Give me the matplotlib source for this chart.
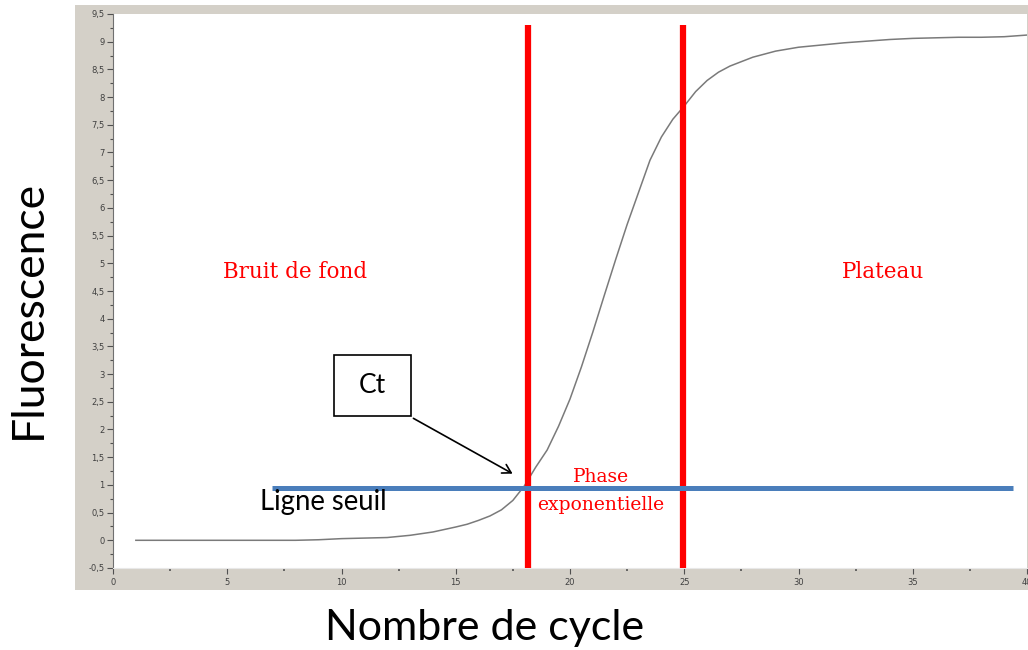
import matplotlib
matplotlib.use("Agg")
import matplotlib.pyplot as plt
from matplotlib.patches import Rectangle, FancyArrowPatch
from matplotlib.ticker import MultipleLocator, FuncFormatter

# ---- data ----
cycles = [1, 2, 3, 4, 5, 6, 7, 8, 9, 10, 11, 12, 13, 14, 15,
          15.5, 16, 16.5, 17, 17.5, 18, 18.5, 19, 19.5, 20, 20.5, 21, 21.5,
          22, 22.5, 23, 23.5, 24, 24.5, 25, 25.5, 26, 26.5, 27,
          28, 29, 30, 31, 32, 33, 34, 35, 36, 37, 38, 39, 40]
fluorescence = [0.0, 0.0, 0.0, 0.0, 0.0, 0.0, 0.0, 0.0, 0.01, 0.03, 0.04, 0.05, 0.09, 0.15, 0.24,
                0.29, 0.36, 0.44, 0.55, 0.72, 0.98, 1.32, 1.63, 2.06, 2.55, 3.13, 3.76, 4.42,
                5.07, 5.70, 6.28, 6.86, 7.28, 7.60, 7.84, 8.10, 8.30, 8.45, 8.56,
                8.72, 8.83, 8.90, 8.94, 8.98, 9.01, 9.04, 9.06, 9.07, 9.08, 9.08, 9.09, 9.12]
phase_bounds = [18.15, 24.95]        # red vertical lines
red_top = 9.3
threshold = 0.95                     # Ligne seuil
threshold_span = [6.96, 39.4]
xlim = (0, 40)
ylim = (-0.5, 9.5)

W, H = 1028, 650
fig = plt.figure(figsize=(W / 100, H / 100), dpi=100)
fig.patch.set_facecolor("white")

def fx(px):
    return px / W

def fy(py):
    return 1 - py / H

# grey panel behind the plot (old Windows style)
fig.patches.append(Rectangle((fx(75), fy(590)), fx(1028) - fx(75), fy(5) - fy(590),
                             transform=fig.transFigure, facecolor="#d4d0c8",
                             edgecolor="none", zorder=-5))

ax = fig.add_axes([fx(113), fy(568), fx(1027) - fx(113), fy(14) - fy(568)])
ax.set_zorder(1)
ax.set_facecolor("white")
ax.set_xlim(*xlim)
ax.set_ylim(*ylim)

for s in ["top", "right"]:
    ax.spines[s].set_visible(False)
ax.spines["left"].set_color("#707070")
ax.spines["left"].set_linewidth(0.8)
ax.spines["bottom"].set_color("#e8e8e8")
ax.spines["bottom"].set_linewidth(0.8)

ax.xaxis.set_major_locator(MultipleLocator(5))
ax.xaxis.set_minor_locator(MultipleLocator(2.5))
ax.yaxis.set_major_locator(MultipleLocator(0.5))
ax.yaxis.set_minor_locator(MultipleLocator(0.25))
fmt = FuncFormatter(lambda v, p: ("%g" % v).replace(".", ","))
ax.xaxis.set_major_formatter(fmt)
ax.yaxis.set_major_formatter(fmt)
ax.tick_params(axis="y", which="major", length=4, width=0.8, color="#505050",
               labelsize=6, labelcolor="#404040", pad=2)
ax.tick_params(axis="y", which="minor", length=2.5, width=0.8, color="#505050")
ax.tick_params(axis="x", which="major", length=4, width=0.8, color="#505050",
               labelsize=6, labelcolor="#404040", pad=3)
ax.tick_params(axis="x", which="minor", length=2, width=1.2, color="#505050")

# curve
ax.plot(cycles, fluorescence, color="#7a7a7a", lw=1.1, zorder=2)

# red phase boundaries
for xb in phase_bounds:
    ax.vlines(xb, ylim[0], red_top, color="#ff0000", lw=4.5, zorder=3)

# threshold line
ax.hlines(threshold, threshold_span[0], threshold_span[1], color="#4a7ebb", lw=3.6, zorder=4)

serif = "DejaVu Serif"
red = "#ff0000"
fig.text(fx(295), fy(272), "Bruit de fond", color=red, family=serif, fontsize=15.5,
         ha="center", va="center", zorder=10)
fig.text(fx(883), fy(272), "Plateau", color=red, family=serif, fontsize=15.5,
         ha="center", va="center", zorder=10)
fig.text(fx(601), fy(477), "Phase", color=red, family=serif, fontsize=13.5,
         ha="center", va="center", zorder=10)
fig.text(fx(601), fy(505), "exponentielle", color=red, family=serif, fontsize=13.5,
         ha="center", va="center", zorder=10)

sans = "Lato"
fig.text(fx(323), fy(502), "Ligne seuil", color="black", family=sans, fontsize=19.8,
         ha="center", va="center", zorder=10)

# Ct box
fig.patches.append(Rectangle((fx(334), fy(416)), fx(411) - fx(334), fy(355) - fy(416),
                             transform=fig.transFigure, facecolor="white",
                             edgecolor="black", lw=1.2, zorder=5))
fig.text(fx(372.5), fy(386), "Ct", color="black", family=sans, fontsize=19,
         ha="center", va="center", zorder=6)
fig.patches.append(FancyArrowPatch((fx(411), fy(417)), (fx(515), fy(475)),
                                   transform=fig.transFigure,
                                   arrowstyle="->,head_length=6,head_width=3.5",
                                   color="black", lw=1.2, zorder=6))

fig.text(fx(28), fy(309), "Fluorescence", color="black", family=sans, fontsize=32,
         rotation=90, ha="center", va="center")
fig.text(fx(485), fy(628), "Nombre de cycle", color="black", family=sans, fontsize=31,
         ha="center", va="center")

fig.savefig("out.png", dpi=100, facecolor="white")
